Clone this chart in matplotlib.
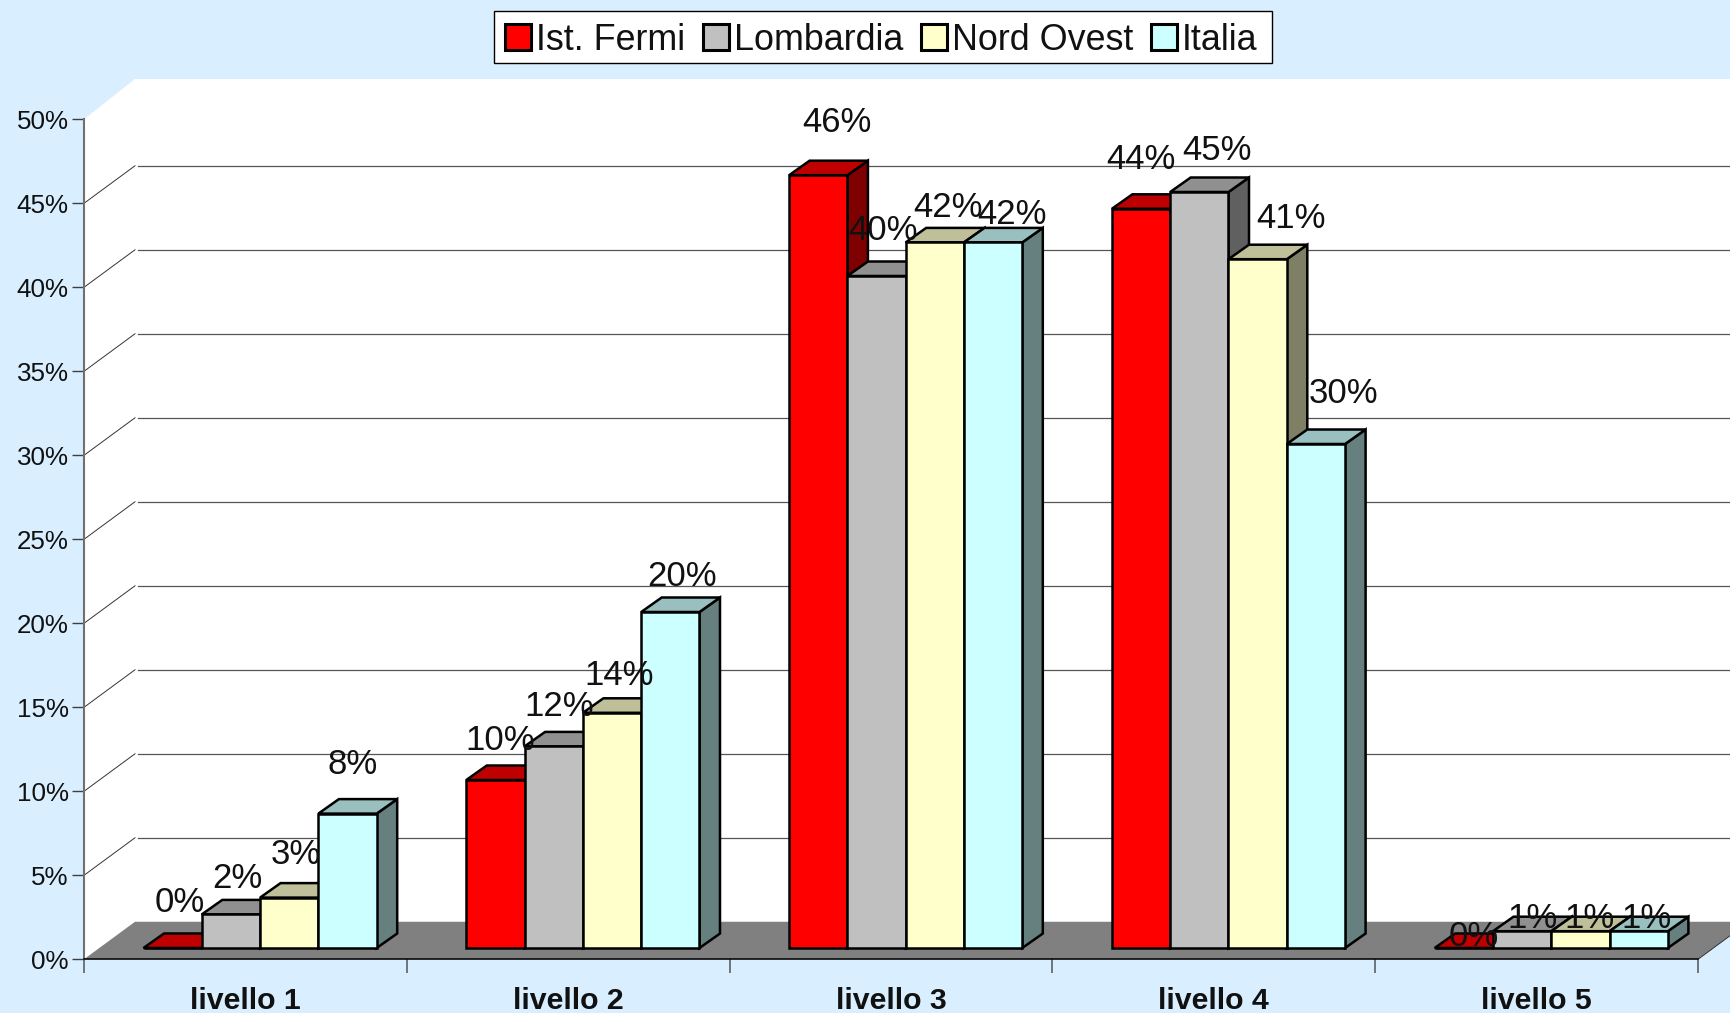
import matplotlib
matplotlib.use('Agg')
import matplotlib.pyplot as plt
from matplotlib.patches import Patch, Polygon, Rectangle

plt.rcParams['font.family'] = ['Liberation Sans', 'DejaVu Sans']

# Dati
levels = ['livello 1', 'livello 2', 'livello 3', 'livello 4', 'livello 5']
series_names = ['Ist. Fermi', 'Lombardia', 'Nord Ovest', 'Italia']
ist_fermi = [0, 10, 46, 44, 0]
lombardia = [2, 12, 40, 45, 1]
nord_ovest = [3, 14, 42, 41, 1]
italia = [8, 20, 42, 30, 1]
y_ticks = [0, 5, 10, 15, 20, 25, 30, 35, 40, 45, 50]

# front, top, side of each series
series_colors = [
    ('#FF0000', '#BF0000', '#7F0000'),
    ('#C0C0C0', '#909090', '#606060'),
    ('#FFFFCC', '#BFBF99', '#7F7F66'),
    ('#CCFFFF', '#99BFBF', '#668080'),
]

# where Excel left the value labels, pixels from the top of the bar front
label_nudge = [
    [(7, 45), (6, 36), (7, 43), (5, 49)],
    [(5, 40), (5, 40), (7, 37), (12, 35)],
    [(19, 53), (6, 45), (13, 35), (19, 28)],
    [(0, 49), (18, 41), (33, 41), (28, 50)],
    [(10, 12), (10, 13), (9, 13), (8, 13)],
]

BACKGROUND = '#D9EFFF'
W, H = 1731, 1013
LEFT, RIGHT, TOP, BOTTOM = 84, 1698, 119.3, 959.3
PX_X = (RIGHT - LEFT) / 5
PX_Y = (BOTTOM - TOP) / 50
FLOOR_INSET = 11.3


def px_x(px):
    return px / PX_X


def px_y(px):
    return px / PX_Y


def draw_room(ax):
    dx, dy = px_x(51), px_y(37.5)
    wall_top = 50 + px_y(40.3)
    ax.add_patch(Polygon([(0, 0), (0, 50), (dx, wall_top), (5 + dx, wall_top), (5 + dx, dy), (dx, dy)],
                         fc='white', ec='none', clip_on=False, zorder=0))
    ax.add_patch(Polygon([(0, 0), (dx, dy), (5 + dx, dy), (5, 0)],
                         fc='#808080', ec='none', clip_on=False, zorder=1))
    for y in y_ticks[1:-1]:
        ax.plot([px_x(54), 5 + dx], [y + dy, y + dy], color='#555555', lw=0.9, clip_on=False, zorder=1)
        ax.plot([0, dx], [y, y + dy], color='#333333', lw=0.7, clip_on=False, zorder=1)
    ax.plot([5, 5 + dx], [0, dy], color='#333333', lw=0.7, clip_on=False, zorder=1)


def draw_bar(ax, x, value, width, colors):
    # base of the bars sits a bit inside the floor
    y = px_y(FLOOR_INSET)
    dx, dy = px_x(20.5), px_y(14.5)
    front, top, side = colors
    style = dict(ec='black', lw=1.8, joinstyle='miter', clip_on=False, zorder=3)
    ax.add_patch(Polygon([(x + width, y), (x + width + dx, y + dy),
                          (x + width + dx, y + value + dy), (x + width, y + value)], fc=side, **style))
    ax.add_patch(Polygon([(x, y + value), (x + dx, y + value + dy),
                          (x + width + dx, y + value + dy), (x + width, y + value)], fc=top, **style))
    ax.add_patch(Rectangle((x, y), width, value, fc=front, **style))


def main():
    fig = plt.figure(figsize=(W / 100, H / 100), dpi=100, facecolor=BACKGROUND)
    ax = fig.add_axes([LEFT / W, 1 - BOTTOM / H, (RIGHT - LEFT) / W, (BOTTOM - TOP) / H])
    ax.patch.set_visible(False)
    ax.set_xlim(0, 5)
    ax.set_ylim(0, 50)

    draw_room(ax)

    series = [ist_fermi, lombardia, nord_ovest, italia]
    bar_w = px_x(58.3)
    shift = px_x(14.7)
    for i in range(len(levels)):
        for k, values in enumerate(series):
            x = i + 0.5 + shift + (k - 2) * bar_w
            draw_bar(ax, x, values[i], bar_w, series_colors[k])
            ax.annotate(f'{values[i]}%', (x + bar_w / 2, values[i] + px_y(FLOOR_INSET)),
                        xytext=label_nudge[i][k], textcoords='offset pixels',
                        ha='center', va='center', fontsize=25, color='#111111',
                        annotation_clip=False, zorder=10)

    ax.set_yticks(y_ticks)
    ax.set_yticklabels([f'{v}%' for v in y_ticks], fontsize=18.7, color='#111111')
    ax.tick_params(axis='y', length=8.6, width=1, color='#404040', pad=2.5)
    ax.set_xticks([i + 0.5 for i in range(len(levels))])
    ax.set_xticklabels(levels, fontsize=21.8, fontweight='bold', color='#111111')
    ax.set_xticks(range(len(levels) + 1), minor=True)
    ax.tick_params(axis='x', which='major', length=0, pad=20)
    ax.tick_params(axis='x', which='minor', length=10, width=1.2, color='#606060')
    for side in ['top', 'right']:
        ax.spines[side].set_visible(False)
    ax.spines['left'].set_color('#707070')
    ax.spines['left'].set_linewidth(1.5)
    ax.spines['bottom'].set_color('black')
    ax.spines['bottom'].set_linewidth(1.1)

    # legend frame on its own, the columns do not fill it on the right
    fig.add_artist(Rectangle((494 / W, 1 - 63 / H), 778 / W, 52 / H, transform=fig.transFigure,
                             fc='white', ec='black', lw=1))
    handles = [Patch(fc=c[0], ec='black', lw=2.2) for c in series_colors]
    fig.legend(handles, series_names, loc='center left', ncol=4,
               bbox_to_anchor=(505 / W, 1 - 40 / H), borderaxespad=0,
               fontsize=25.8, handlelength=0.72, handleheight=0.75, handletextpad=0.14,
               columnspacing=0.5, borderpad=0, frameon=False, labelcolor='#111111')

    fig.savefig('out.png', dpi=100, facecolor=BACKGROUND)


if __name__ == '__main__':
    main()
